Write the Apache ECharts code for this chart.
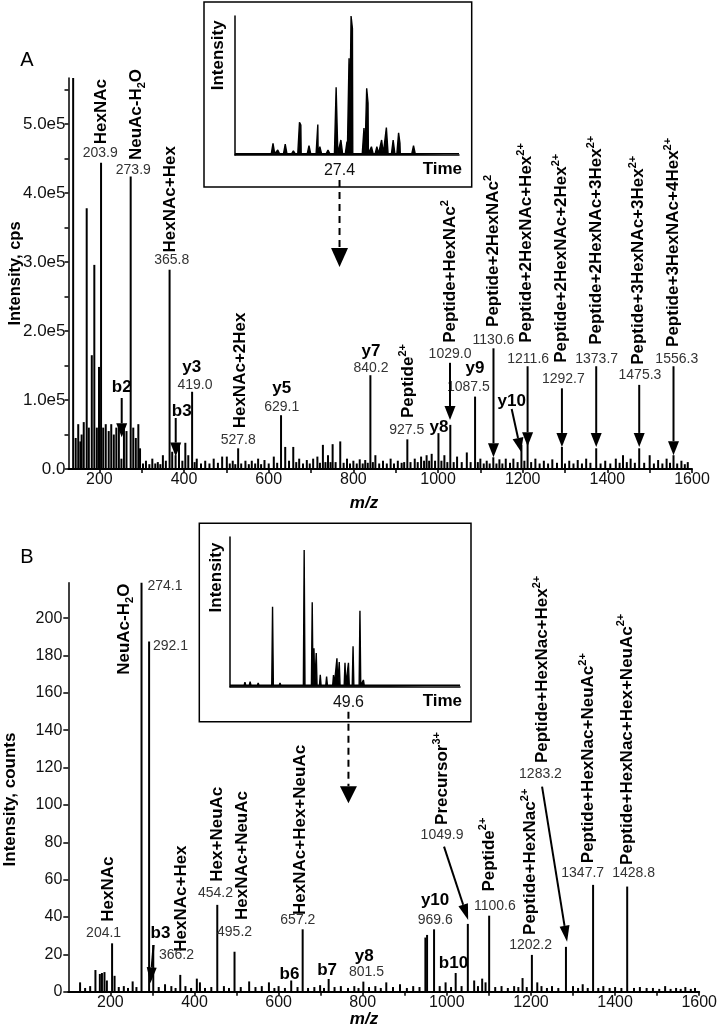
<!DOCTYPE html>
<html>
<head>
<meta charset="utf-8">
<title>Glycopeptide MS/MS spectra</title>
<script src="https://cdn.jsdelivr.net/npm/echarts@6.0.0/dist/echarts.min.js"></script>
<style>
  html, body { margin: 0; padding: 0; background: #fff; }
  #chart { width: 720px; height: 1029px; }
</style>
</head>
<body>
<div id="chart"></div>
<script>
// ---------- panel A : MS/MS spectrum, intensity in 1e5 cps ----------
const peaksA = [
  [138, 7.0], [144, 0.45], [150, 0.65], [155, 0.4], [158, 0.5], [163, 0.68], [170, 3.78], [175, 0.6],
  [182, 1.65], [188, 2.96], [194, 0.6], [199, 1.48], [203.9, 4.44], [209, 0.6], [215, 0.65], [222, 0.55],
  [228, 0.65], [234, 0.5], [240, 0.6], [246, 0.62], [252, 0.15], [258, 0.6], [264, 0.55], [273.9, 4.24],
  [280, 0.6], [286, 0.45], [292, 0.65], [296, 0.3], [303, 0.08], [310, 0.12], [318, 0.07], [325, 0.15],
  [332, 0.08], [338, 0.1], [344, 0.07], [350, 0.2], [357, 0.12], [365.8, 2.89], [372, 0.25], [380, 0.2],
  [388, 0.35], [396, 0.12], [403, 0.38], [410, 0.2], [419.0, 1.12], [425, 0.1], [430, 0.15], [440, 0.08],
  [450, 0.12], [460, 0.08], [470, 0.15], [480, 0.09], [490, 0.18], [501, 0.18], [508, 0.08], [515, 0.12],
  [521, 0.07], [527.8, 0.30], [535, 0.08], [545, 0.12], [553, 0.07], [560, 0.12], [568, 0.08], [575, 0.15],
  [582, 0.07], [590, 0.13], [600, 0.08], [612, 0.18], [620, 0.09], [629.1, 0.78], [639, 0.32], [648, 0.12],
  [658, 0.32], [665, 0.1], [672, 0.15], [681, 0.08], [690, 0.13], [697, 0.08], [705, 0.15], [715, 0.18],
  [721, 0.09], [728, 0.35], [734, 0.1], [740, 0.2], [746, 0.1], [751, 0.36], [758, 0.1], [769, 0.40],
  [777, 0.09], [785, 0.15], [792, 0.08], [800, 0.12], [808, 0.08], [815, 0.14], [822, 0.08], [828, 0.13],
  [834, 0.09], [840.2, 1.36], [846, 0.1], [852, 0.2], [861, 0.08], [870, 0.12], [879, 0.08], [888, 0.15],
  [896, 0.08], [905, 0.12], [914, 0.09], [920, 0.1], [927.5, 0.43], [935, 0.1], [945, 0.15], [952, 0.1],
  [960, 0.18], [967, 0.12], [973, 0.2], [979, 0.12], [985, 0.22], [993, 0.12], [1001, 0.52], [1008, 0.12],
  [1015, 0.2], [1022, 0.1], [1029.0, 0.64], [1037, 0.1], [1045, 0.18], [1056, 0.1], [1068, 0.24],
  [1077, 0.1], [1087.5, 1.05], [1094, 0.1], [1100, 0.15], [1108, 0.08], [1115, 0.12], [1122, 0.08],
  [1130.6, 0.17], [1138, 0.08], [1145, 0.14], [1152, 0.08], [1160, 0.15], [1170, 0.09], [1178, 0.15],
  [1188, 0.1], [1197, 0.35], [1204, 0.12], [1211.6, 0.38], [1220, 0.1], [1230, 0.15], [1240, 0.08],
  [1250, 0.12], [1260, 0.08], [1270, 0.14], [1281, 0.09], [1292.7, 0.32], [1300, 0.08], [1310, 0.12],
  [1320, 0.08], [1330, 0.13], [1340, 0.08], [1350, 0.15], [1360, 0.09], [1373.7, 0.30], [1384, 0.08],
  [1395, 0.12], [1407, 0.08], [1420, 0.15], [1429, 0.09], [1437, 0.2], [1446, 0.1], [1455, 0.15],
  [1465, 0.09], [1475.3, 0.30], [1487, 0.09], [1500, 0.2], [1510, 0.08], [1520, 0.13], [1530, 0.08],
  [1540, 0.15], [1548, 0.09], [1556.3, 0.2], [1565, 0.08], [1575, 0.12], [1583, 0.07], [1590, 0.1]
];
const yTicksA = [0, 0.5, 1, 1.5, 2, 2.5, 3, 3.5, 4, 4.5, 5, 5.5];
const yLabelsA = [0, 1, 2, 3, 4, 5];
const xTicksA = [200, 300, 400, 500, 600, 700, 800, 900, 1000, 1100, 1200, 1300, 1400, 1500, 1600];
const xLabelsA = [200, 400, 600, 800, 1000, 1200, 1400, 1600];

// inset A : chromatogram peaks (time, relative intensity)
const chromTimeA = [13.6, 17.6, 18.3, 19.4, 20.6, 21.5, 21.7, 22.9, 24.2, 24.5, 25.7, 26.9, 27.6, 28.5,
  28.8, 29.1, 29.3, 31.0, 31.4, 31.6, 32.1, 32.9, 33.6, 34.3, 35.3, 36.1, 36.3, 38.3];
const chromIntA = [2, 8.4, 3.6, 7.9, 3, 23.5, 21.6, 6.7, 22, 6, 3.6, 48.7, 10.8, 9.6,
  69.6, 100, 91, 19.4, 48, 37.4, 6, 6, 10.8, 19.7, 10.8, 16, 8.6, 6.7];
const chromMarkA = 27.4;

// ---------- panel B : MS/MS spectrum, counts ----------
const peaksB = [
  [128, 5], [140, 2], [152, 3], [164.5, 11.6], [175, 9.5], [180, 10], [186, 10.5], [191.7, 6], [204.1, 25.9],
  [210, 8.5], [220, 2.5], [232, 3], [242, 2], [253, 5.5], [262, 2.5], [274.1, 219], [292.1, 187.5],
  [302, 25], [315, 2.5], [330, 4], [345, 3], [355, 2], [366.2, 9], [378.5, 3], [392, 2], [405.6, 7],
  [413, 5], [425, 2], [440, 2.5], [454.2, 46.5], [470, 3], [482, 2], [495.2, 21.4], [510, 2.5], [530, 5.5],
  [545, 2.5], [560, 3], [577, 5], [590, 2], [600, 3], [615, 2], [630, 6], [645, 2.5], [657.2, 33.4],
  [670, 2], [685, 2.5], [698.7, 3.5], [708, 2], [719, 6.8], [733, 2.5], [748, 3], [765, 2], [780, 3],
  [790, 2], [801.5, 5.4], [815, 2.5], [830, 3], [843, 2], [856, 5], [872, 2.5], [888.6, 4], [905, 2],
  [920, 3], [935, 2.5], [949, 29], [953, 30.4], [969.6, 33.4], [983, 3], [997, 5], [1010, 2.5], [1021, 10],
  [1035, 3], [1049.9, 36.3], [1065, 6], [1074, 3], [1084, 7], [1092, 5], [1100.6, 40.7], [1115, 2.5],
  [1130, 3], [1145, 2], [1160, 3], [1170, 2.5], [1180, 7.3], [1190, 2.5], [1202.2, 19.7], [1215, 5],
  [1225, 3], [1238, 2], [1250, 3], [1265, 2], [1283.2, 24], [1300, 3], [1312, 2], [1323, 4], [1335, 2],
  [1347.7, 57.2], [1360, 2], [1372, 3], [1387, 2], [1400, 2.5], [1415, 2], [1428.8, 56.3], [1445, 2],
  [1459, 2.5], [1475, 2], [1490, 2], [1505, 1.5], [1519, 3], [1532, 1.5], [1545, 2], [1556, 1.5],
  [1567, 2.5], [1580, 1.5], [1590, 2]
];
const yTicksB = [0, 20, 40, 60, 80, 100, 120, 140, 160, 180, 200];
const xTicksB = [200, 300, 400, 500, 600, 700, 800, 900, 1000, 1100, 1200, 1300, 1400, 1500, 1600];
const xLabelsB = [200, 400, 600, 800, 1000, 1200, 1400, 1600];

// inset B : chromatogram peaks
const chromTimeB = [31.6, 32.5, 33.9, 36.4, 37.7, 39.4, 41.9, 43.3, 43.6, 44.0, 44.7, 45.8, 47.0,
  47.6, 48.0, 49.0, 49.6, 50.4, 51.6, 52.2, 53.3, 55.1, 56.8];
const chromIntB = [3, 3.3, 2.5, 53.4, 2.5, 2, 91.3, 56.4, 25.6, 22.5, 8, 6.7, 7.7,
  19, 16.5, 16, 16, 27, 50.8, 4.5, 2, 1.5, 1];
const chromMarkB = 49.6;

// ---------- annotations (text, m/z, intensity) ----------
const rotLabelsA = [
  ['HexNAc', 204, 4.71], ['NeuAc-H{sub|2}O', 286.5, 4.48], ['HexNAc+Hex', 368.4, 3.14],
  ['HexNAc+2Hex', 532.2, 0.59], ['Peptide{sup|2+}', 929, 0.74], ['Peptide+HexNAc{sup|2}', 1028.3, 1.83],
  ['Peptide+2HexNAc{sup|2}', 1131, 2.06], ['Peptide+2HexNAc+Hex{sup|2+}', 1209.5, 1.83],
  ['Peptide+2HexNAc+2Hex{sup|2+}', 1292, 1.54], ['Peptide+2HexNAc+3Hex{sup|2+}', 1374.8, 1.80],
  ['Peptide+3HexNAc+3Hex{sup|2+}', 1472.4, 1.51], ['Peptide+3HexNAc+4Hex{sup|2+}', 1555.8, 1.77]
];
const numLabelsA = [
  ['203.9', 202, 4.58], ['273.9', 280.1, 4.33], ['365.8', 371, 3.03], ['419.0', 425.8, 1.22],
  ['527.8', 528, 0.42], ['629.1', 630.7, 0.90], ['840.2', 841.6, 1.46], ['927.5', 926, 0.57],
  ['1029.0', 1028.3, 1.67], ['1087.5', 1071.7, 1.19], ['1130.6', 1131, 1.87], ['1211.6', 1213, 1.60],
  ['1292.7', 1296, 1.31], ['1373.7', 1374.8, 1.60], ['1475.3', 1477, 1.36], ['1556.3', 1564, 1.60]
];
const ionLabelsA = [
  ['b2', 252.7, 1.19], ['y3', 418.3, 1.47], ['b3', 394.4, 0.83], ['y5', 630.7, 1.17],
  ['y7', 841.6, 1.70], ['y8', 1002, 0.61], ['y9', 1087.3, 1.46], ['y10', 1174, 0.98]
];
const arrowsA = [
  [252.7, 1.03, 252.7, 0.46], [380.3, 0.74, 380.3, 0.18], [1028.3, 1.54, 1028.3, 0.71],
  [1131, 1.75, 1131, 0.17], [1174, 0.87, 1196, 0.25], [1211.6, 1.49, 1211.6, 0.33],
  [1292.7, 1.17, 1292.7, 0.32], [1373.7, 1.49, 1373.7, 0.32], [1475.3, 1.22, 1475.3, 0.32],
  [1556.3, 1.49, 1556.3, 0.2]
];

const rotLabelsB = [
  ['HexNAc', 194, 37.5], ['NeuAc-H{sub|2}O', 234, 169.7], ['HexNAc+Hex', 367.6, 21.4],
  ['Hex+NeuAc', 455, 58.9], ['HexNAc+NeuAc', 512.8, 38.4], ['HexNAc+Hex+NeuAc', 651, 41.1],
  ['Precursor{sup|3+}', 989, 89.3], ['Peptide{sup|2+}', 1100, 53.6], ['Peptide+HexNac{sup|2+}', 1199.6, 30.4],
  ['Peptide+HexNac+Hex{sup|2+}', 1226.4, 122.4], ['Peptide+HexNac+NeuAc{sup|2+}', 1337, 68.8],
  ['Peptide+HexNac+Hex+NeuAc{sup|2+}', 1428, 67.9]
];
const numLabelsB = [
  ['204.1', 184, 31.4], ['274.1', 329.8, 216.9], ['292.1', 343, 184.8], ['366.2', 357.3, 19.7],
  ['454.2', 449.8, 52.7], ['495.2', 495.3, 32.1], ['657.2', 645.7, 38.4], ['801.5', 809, 10.7],
  ['969.6', 972.4, 38.4], ['1049.9', 988.5, 84], ['1100.6', 1114, 45.9], ['1202.2', 1199, 25],
  ['1283.2', 1222.6, 116.6], ['1347.7', 1323, 63.4], ['1428.8', 1444, 63.4]
];
const ionLabelsB = [
  ['b3', 319, 31.3], ['b6', 625.7, 9.5], ['b7', 715.4, 11.3], ['y8', 803.6, 18.8],
  ['y10', 972, 49.1], ['b10', 1015.8, 15.2]
];
const arrowsB = [
  [302.7, 25, 295.2, 4.5], [993.3, 77.7, 1050.7, 38.4], [1226.4, 109.8, 1285.9, 26.8]
];

const FONT = '"Liberation Sans", Arial, Helvetica, sans-serif';
const chart = echarts.init(document.getElementById('chart'), null, { renderer: 'canvas' });

// chromatogram trace: each read peak drawn as a narrow spike on the baseline
function chromTrace(times, ints, t0, t1, w) {
  const base = 1;
  const pts = [[t0, base]];
  times.forEach((t, i) => {
    pts.push([t - w, base], [t, ints[i]], [t + w, base]);
  });
  pts.push([t1, base]);
  pts.sort((a, b) => a[0] - b[0]);
  return pts;
}

const blackLine = { lineStyle: { color: '#000', width: 1.5 } };
const labelFont = { fontFamily: FONT, color: '#111' };

function spectrumX(grid, min, max, ticks, labels) {
  return {
    gridIndex: grid, type: 'value', min: min, max: max,
    axisLine: { lineStyle: { color: '#000', width: 2 } },
    axisTick: { customValues: ticks, length: 4, lineStyle: { color: '#000', width: 1.5 } },
    axisLabel: Object.assign({ customValues: labels, margin: 3, fontSize: 16, formatter: v => String(v) }, labelFont),
    splitLine: { show: false }
  };
}
function insetX(grid, min, max, mark) {
  return {
    gridIndex: grid, type: 'value', min: min, max: max,
    axisLine: blackLine,
    axisTick: { show: false },
    axisLabel: Object.assign({ customValues: [mark], formatter: v => v.toFixed(1), margin: 8, fontSize: 16 }, labelFont),
    splitLine: { show: false }
  };
}
function insetY(grid) {
  return {
    gridIndex: grid, type: 'value', min: 0, max: 100,
    axisLine: { show: true, lineStyle: { color: '#000', width: 1.5 } },
    axisTick: { show: false }, axisLabel: { show: false }, splitLine: { show: false }
  };
}

const option = {
  animation: false,
  backgroundColor: '#fff',
  grid: [
    { left: 68.5, top: 78, width: 623.5, height: 391 },
    { left: 235, top: 16, width: 224, height: 139 },
    { left: 68.3, top: 582.7, width: 632, height: 409 },
    { left: 230, top: 537, width: 230, height: 149.7 }
  ],
  xAxis: [
    spectrumX(0, 127, 1600, xTicksA, xLabelsA),
    insetX(1, 12, 45, chromMarkA),
    spectrumX(2, 100, 1600, xTicksB, xLabelsB),
    insetX(3, 29, 69, chromMarkB)
  ],
  yAxis: [
    {
      gridIndex: 0, type: 'value', min: 0, max: 5.67,
      axisLine: { show: true, lineStyle: { color: '#000', width: 1.5 } },
      axisTick: { customValues: yTicksA, length: 4, lineStyle: { color: '#000', width: 1.5 } },
      axisLabel: Object.assign({
        customValues: yLabelsA, margin: 3, fontSize: 17,
        formatter: v => (v === 0 ? '0.0' : v.toFixed(1) + 'e5')
      }, labelFont),
      splitLine: { show: false }
    },
    insetY(1),
    {
      gridIndex: 2, type: 'value', min: 0, max: 219,
      axisLine: { show: true, lineStyle: { color: '#000', width: 1.5 } },
      axisTick: { customValues: yTicksB, length: 5, lineStyle: { color: '#000', width: 1.5 } },
      axisLabel: Object.assign({ customValues: yTicksB, margin: 6, fontSize: 16 }, labelFont),
      splitLine: { show: false }
    },
    insetY(3)
  ],
  series: [
    {
      type: 'bar', xAxisIndex: 0, yAxisIndex: 0, data: peaksA, barWidth: 2,
      itemStyle: { color: '#000' }, clip: true, silent: true
    },
    {
      type: 'line', xAxisIndex: 1, yAxisIndex: 1, data: chromTrace(chromTimeA, chromIntA, 12, 45, 0.25),
      showSymbol: false, lineStyle: { color: '#000', width: 1.4 }, areaStyle: { color: '#000', opacity: 1 }, silent: true
    },
    {
      type: 'bar', xAxisIndex: 2, yAxisIndex: 2, data: peaksB, barWidth: 2,
      itemStyle: { color: '#000' }, clip: true, silent: true
    },
    {
      type: 'line', xAxisIndex: 3, yAxisIndex: 3, data: chromTrace(chromTimeB, chromIntB, 29, 69, 0.14),
      showSymbol: false, lineStyle: { color: '#000', width: 1.4 }, areaStyle: { color: '#000', opacity: 1 }, silent: true
    }
  ]
};
chart.setOption(option);

// ---------- overlay: labels and arrows placed through the axes ----------
const px = (g, x, y) => chart.convertToPixel({ xAxisIndex: g, yAxisIndex: g }, [x, y]);
const richStyles = {
  sup: { fontFamily: FONT, fontWeight: 'bold', fontSize: 11, verticalAlign: 'top', lineHeight: 11 },
  sub: { fontFamily: FONT, fontWeight: 'bold', fontSize: 11, verticalAlign: 'bottom', lineHeight: 11 }
};
const gfx = [];

function rotText(g, item) {
  const p = px(g, item[1], item[2]);
  gfx.push({
    type: 'text', x: p[0], y: p[1], rotation: Math.PI / 2, z: 100,
    style: {
      text: item[0], fill: '#000', fontFamily: FONT, fontWeight: 'bold', fontSize: 17, lineHeight: 22,
      align: 'left', verticalAlign: 'middle', rich: richStyles
    }
  });
}
function flatText(g, item, size, bold, color) {
  const p = px(g, item[1], item[2]);
  gfx.push({
    type: 'text', x: p[0], y: p[1], z: 100,
    style: {
      text: item[0], fill: color, fontFamily: FONT, fontWeight: bold ? 'bold' : 'normal', fontSize: size,
      align: 'center', verticalAlign: 'middle'
    }
  });
}
function arrow(p1, p2, headLen, headW, dashed) {
  const dx = p2[0] - p1[0], dy = p2[1] - p1[1];
  const len = Math.hypot(dx, dy);
  const ux = dx / len, uy = dy / len;
  const bx = p2[0] - ux * headLen, by = p2[1] - uy * headLen;
  const nx = -uy * headW / 2, ny = ux * headW / 2;
  gfx.push({
    type: 'line', z: 100,
    shape: { x1: p1[0], y1: p1[1], x2: bx, y2: by },
    style: { stroke: '#000', lineWidth: 2, lineDash: dashed ? [7, 5] : null }
  });
  gfx.push({
    type: 'polygon', z: 100,
    shape: { points: [[p2[0], p2[1]], [bx + nx, by + ny], [bx - nx, by - ny]] },
    style: { fill: '#000' }
  });
}

rotLabelsA.forEach(d => rotText(0, d));
numLabelsA.forEach(d => flatText(0, d, 14, false, '#333'));
ionLabelsA.forEach(d => flatText(0, d, 17, true, '#000'));
arrowsA.forEach(a => arrow(px(0, a[0], a[1]), px(0, a[2], a[3]), 14, 11, false));

rotLabelsB.forEach(d => rotText(2, d));
numLabelsB.forEach(d => flatText(2, d, 14, false, '#333'));
ionLabelsB.forEach(d => flatText(2, d, 17, true, '#000'));
arrowsB.forEach(a => arrow(px(2, a[0], a[1]), px(2, a[2], a[3]), 16, 10, false));

// inset frames and the dashed pointers from the selected retention time
gfx.push({ type: 'rect', z: 90, shape: { x: 204, y: 2, width: 267.7, height: 185 },
  style: { fill: 'none', stroke: '#000', lineWidth: 1.5 } });
gfx.push({ type: 'rect', z: 90, shape: { x: 199.3, y: 523.3, width: 271.7, height: 198.4 },
  style: { fill: 'none', stroke: '#000', lineWidth: 1.5 } });

const markA = px(1, chromMarkA, 0);
arrow([markA[0], markA[1] + 25], [markA[0], px(0, 200, 2.93)[1]], 19, 17, true);
const markB = px(3, chromMarkB, 0);
arrow([markB[0], markB[1] + 25], [markB[0], px(2, 200, 100.9)[1]], 17, 17, true);

function staticText(text, x, y, opts) {
  gfx.push({
    type: 'text', x: x, y: y, rotation: opts.rot || 0, z: 100,
    style: Object.assign({
      text: text, fill: '#000', fontFamily: FONT, fontSize: 17, fontWeight: 'bold',
      align: 'center', verticalAlign: 'middle'
    }, opts.style || {})
  });
}
staticText('A', 27, 60, { style: { fontWeight: 'normal', fontSize: 20 } });
staticText('B', 27, 557, { style: { fontWeight: 'normal', fontSize: 20 } });
staticText('Intensity, cps', 15.5, 273.5, { rot: Math.PI / 2, style: { fontSize: 16.5 } });
staticText('Intensity, counts', 10, 799.5, { rot: Math.PI / 2 });
staticText('m/z', 364, 503, { style: { fontStyle: 'italic' } });
staticText('m/z', 364, 1019, { style: { fontStyle: 'italic' } });
staticText('Intensity', 218, 55.3, { rot: Math.PI / 2 });
staticText('Intensity', 216.7, 577.5, { rot: Math.PI / 2 });
staticText('Time', 462, 169, { style: { align: 'right' } });
staticText('Time', 462, 701.7, { style: { align: 'right' } });

chart.setOption({ graphic: { elements: gfx } });
</script>
</body>
</html>
